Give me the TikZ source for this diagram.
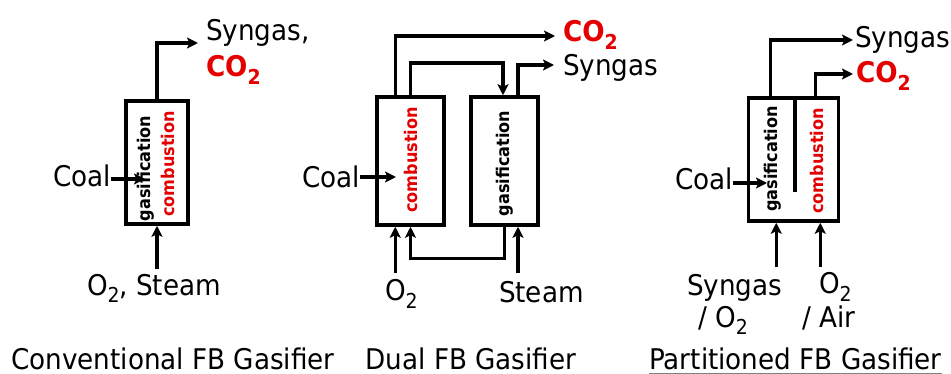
\documentclass[tikz,border=0pt]{standalone}
\usepackage{fontspec}
\setmainfont{DejaVu Sans}[FakeStretch=0.92]
\usetikzlibrary{arrows.meta,calc}
\definecolor{cored}{RGB}{228,0,0}
\newcommand{\subs}[1]{\raisebox{-0.5ex}{\scalebox{0.72}{#1}}}
\begin{document}
\begin{tikzpicture}[x=1pt,y=-1pt,
  box/.style={draw, line width=3.5pt, inner sep=0pt},
  arr/.style={line width=3.5pt, -{Stealth[length=11pt,width=11pt,inset=2.5pt]}},
  wire/.style={line width=3.5pt},
  lbl/.style={inner sep=0pt, outer sep=0pt, font=\fontsize{28.5}{31}\selectfont},
  co/.style={inner sep=0pt, outer sep=0pt, text=cored, font=\fontsize{28.5}{31}\selectfont\bfseries},
  vt/.style={inner sep=0pt, rotate=90, font=\fontsize{17.5}{19}\selectfont\bfseries},
  vtr/.style={vt, text=cored}]
\useasboundingbox (0,0) rectangle (951,374);

% ---------- Panel 1: Conventional ----------
\node[box, minimum width=62pt, minimum height=123pt] (b1) at (157,162.5) {};
\node[vt] (g1) at (146,168.5) {gasification};
\node[vtr] (c1) at (168,164) {combustion};
\node[lbl, anchor=base west] (syn1) at (206,41) {Syngas,};
\node[co, anchor=base west] (co1) at (206,77) {CO\subs{2}};
\coordinate (p1o) at (198,43);
\draw[arr] (b1.north) |- (p1o);
\node[lbl, anchor=base east] (coal1) at (111,187) {Coal};
\coordinate (c1t) at (145,179);
\draw[arr] (coal1.east |- c1t) -- (c1t);
\node[lbl, anchor=base west] (in1) at (87,295) {O\subs{2}, Steam};
\draw[arr] ($(b1.south |- in1.north)+(0,-5)$) -- (b1.south);
\node[lbl, anchor=base] (t1) at (173,369) {Conventional FB Gasifier};

% ---------- Panel 2: Dual ----------
\node[box, minimum width=67pt, minimum height=128pt] (b2a) at (410.5,161) {};
\node[box, minimum width=67pt, minimum height=128pt] (b2b) at (504.5,161) {};
\node[vtr] (c2) at (411,160) {combustion};
\node[vt] (g2) at (505,163.5) {gasification};
\node[co, anchor=base west] (co2) at (563,42) {CO\subs{2}};
\node[lbl, anchor=base west] (syn2) at (563,76) {Syngas};
\coordinate (p2co) at (555,36);
\coordinate (p2sy) at (554,65);
\draw[arr] ($(b2a.north west)+(20,0)$) |- (p2co);
\draw[arr] (b2a.north) -- ++(0,-32) -| ($(b2b.north)+(-1.5,0)$);
\draw[arr] ($(b2b.north)+(13.5,0)$) |- (p2sy);
\node[lbl, anchor=base east] (coal2) at (360,188) {Coal};
\coordinate (c2t) at (396,177);
\draw[arr] (coal2.east |- c2t) -- (c2t);
\node[lbl, anchor=base west] (in2a) at (385,301) {O\subs{2}};
\node[lbl, anchor=base west] (in2b) at (499,302) {Steam};
\draw[arr] ($(b2a.south west)+(20,0)$) ++(0,46) -- ($(b2a.south west)+(20,0)$);
\draw[arr] (b2b.south) -- ++(0,32) -| (b2a.south);
\draw[arr] ($(b2b.south)+(13.5,0)$) ++(0,46) -- ($(b2b.south)+(13.5,0)$);
\node[lbl, anchor=base] (t2) at (471,369) {Dual FB Gasifier};

% ---------- Panel 3: Partitioned ----------
\node[box, minimum width=90pt, minimum height=123pt] (b3) at (793.5,159.5) {};
\draw[wire] ($(b3.north)+(1.5,0)$) -- ++(0,96);
\node[vt] (g3) at (773,159) {gasification};
\node[vtr] (c3) at (817,161) {combustion};
\node[lbl, anchor=base west] (syn3) at (855,48) {Syngas};
\node[co, anchor=base west] (co3) at (856,83) {CO\subs{2}};
\coordinate (p3sy) at (853,40);
\coordinate (p3co) at (853,74);
\draw[arr] ($(b3.north west)+(23.5,0)$) |- (p3sy);
\draw[arr] ($(b3.north west)+(68.5,0)$) |- (p3co);
\node[lbl, anchor=base east] (coal3) at (733,190) {Coal};
\coordinate (c3t) at (767,183);
\draw[arr] (coal3.east |- c3t) -- (c3t);
\node[lbl, anchor=base west] (in3a) at (687,295) {Syngas};
\node[lbl, anchor=base west] (in3b) at (698,327) {/ O\subs{2}};
\node[lbl, anchor=base west] (in3c) at (819,294) {O\subs{2}};
\node[lbl, anchor=base west] (in3d) at (802,327) {/ Air};
\draw[arr] ($(b3.south west)+(29.5,0)$) ++(0,44) -- ($(b3.south west)+(29.5,0)$);
\draw[arr] ($(b3.south west)+(73.5,0)$) ++(0,44) -- ($(b3.south west)+(73.5,0)$);
\node[lbl, anchor=base] (t3) at (795.5,369) {Partitioned FB Gasifier};
\draw[gray, line width=1pt] ($(t3.base west)+(0,4)$) -- ($(t3.base east)+(0,4)$);
\end{tikzpicture}
\end{document}
